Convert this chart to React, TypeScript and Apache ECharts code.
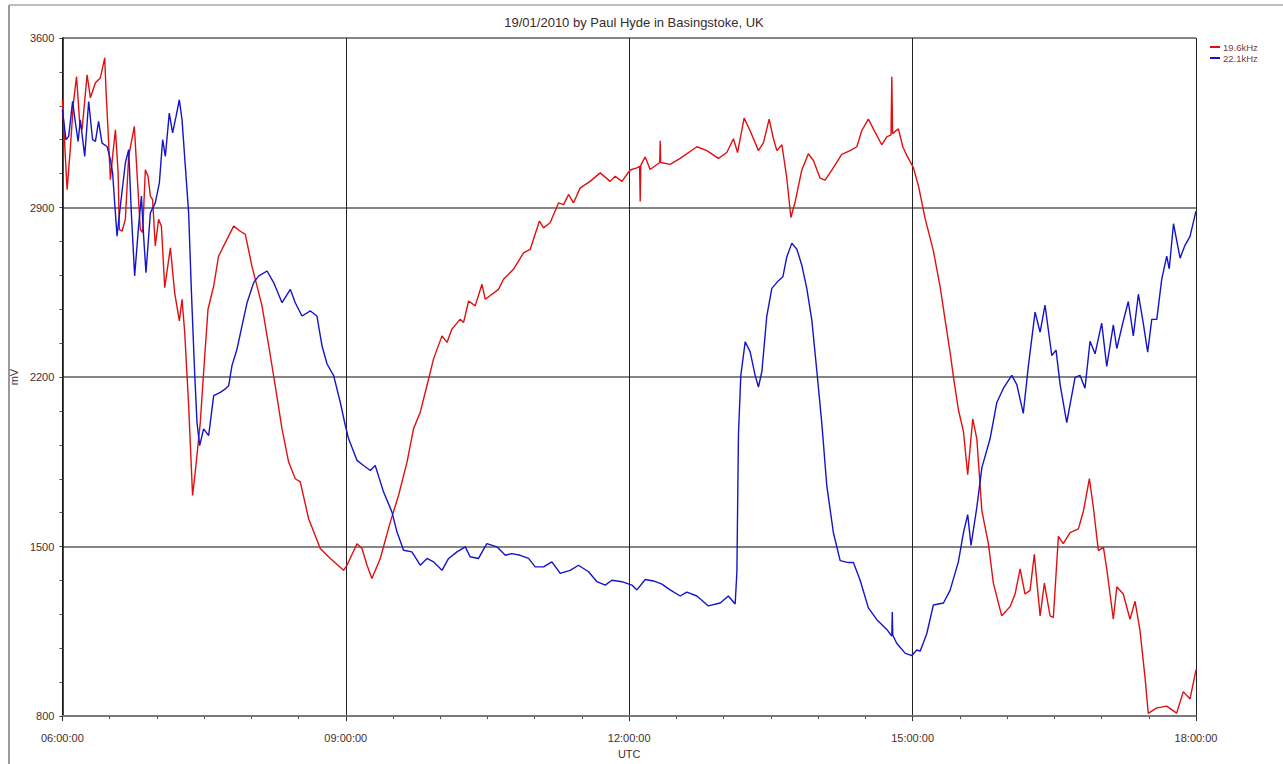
import React, { useEffect, useRef } from "react";
import * as echarts from "echarts";

// Time in minutes after 06:00 UTC, values in mV
const redMinutes = [
  0, 3, 5, 7, 9, 11, 12.5, 15.7, 17.8, 21,
  24.1, 26.9, 27.7, 29, 30.5, 31.9, 33.7, 35.4, 36.2, 37.9,
  40, 42.1, 45.7, 47.4, 49.5, 51, 52.7, 54.4, 55.9, 57.3,
  59, 61.1, 62.9, 65, 68.6, 71.3, 74.3, 76, 77.7, 80.2,
  82.7, 84.4, 87.6, 89.7, 92.5, 96.1, 99.2, 103.5, 108.8, 113,
  116.2, 120.4, 126.8, 132.1, 135.2, 139.5, 143.7, 147.9, 151.1, 156.4,
  163.8, 170.2, 178.6, 180.8, 187.1, 190.3, 193.5, 196.6, 201.9, 208.3,
  213.5, 218.9, 223, 227.3, 232.6, 235.7, 241.1, 244.3, 247.4, 252.7,
  254.8, 258, 262.2, 266.5, 268.6, 277, 280.2, 286.5, 292.9, 297.1,
  303, 305.6, 309.8, 315.1, 318.3, 321.5, 324.6, 328.9, 335.2, 341.6,
  347.9, 351.1, 355.4, 360.6, 364.9, 366.6, 367, 367.4, 370.2, 373.3,
  379.4, 379.7, 380, 386, 392.4, 403, 409.3, 416.7, 422, 426.2,
  428.8, 433, 436.8, 442.1, 445.3, 448.9, 451.6, 453.8, 457, 460.1,
  462.7, 465.4, 469.6, 473.8, 477, 481.3, 484.4, 488.7, 495, 500.3,
  504.6, 507.7, 511.9, 515.1, 520.4, 523.6, 526.3, 526.8, 527.3, 531,
  533.8, 536.3, 540.5, 543.7, 547.9, 553.2, 557.5, 560.6, 563.8, 566.3,
  569.1, 572.3, 575, 578.2, 580.8, 584, 588.1, 591.3, 596.6, 601.9,
  605.1, 608.3, 611.4, 614.6, 617.3, 621, 623.7, 627.3, 629.4, 632.6,
  635.7, 640, 645.3, 648.5, 652.3, 654.8, 658, 661.2, 663.3, 667.5,
  669.7, 673.8, 678.1, 681.3, 684.4, 687.6, 689.7, 695.1, 701.4, 707.7,
  711.9, 716.2, 720,
];
const redValues = [
  3345, 2974, 3139, 3332, 3441, 3250, 3221, 3448, 3353, 3415,
  3435, 3518, 3386, 3221, 3015, 3111, 3221, 3044, 2809, 2802,
  2851, 3111, 3235, 3044, 2809, 2797, 3056, 3029, 2947, 2933,
  2741, 2851, 2823, 2569, 2734, 2549, 2432, 2521, 2384, 2082,
  1711, 1808, 2013, 2219, 2480, 2576, 2699, 2755, 2823, 2802,
  2789, 2658, 2494, 2288, 2164, 1986, 1849, 1780, 1767, 1615,
  1492, 1451, 1402, 1423, 1512, 1492, 1423, 1368, 1451, 1602,
  1711, 1849, 1986, 2055, 2192, 2274, 2370, 2343, 2398, 2439,
  2425, 2514, 2494, 2583, 2521, 2562, 2604, 2645, 2713, 2727,
  2844, 2816, 2837, 2919, 2912, 2954, 2919, 2981, 3008, 3043,
  3008, 3029, 3008, 3055, 3064, 3070, 2925, 3075, 3109, 3057,
  3086, 3176, 3086, 3078, 3103, 3151, 3135, 3103, 3127, 3184,
  3127, 3269, 3217, 3135, 3168, 3265, 3184, 3135, 3159, 3021,
  2859, 2923, 3054, 3122, 3094, 3021, 3013, 3054, 3119, 3135,
  3151, 3217, 3265, 3225, 3159, 3192, 3200, 3440, 3205, 3225,
  3151, 3115, 3065, 2990, 2856, 2721, 2572, 2438, 2303, 2184,
  2065, 1975, 1797, 2027, 1945, 1647, 1513, 1349, 1214, 1252,
  1304, 1408, 1304, 1319, 1468, 1214, 1349, 1214, 1207, 1542,
  1512, 1558, 1573, 1647, 1781, 1662, 1483, 1497, 1408, 1200,
  1334, 1304, 1200, 1274, 1155, 961, 811, 834, 841, 812,
  901, 871, 991,
];

const blueMinutes = [
  0, 2.3, 4, 6.5, 8.3, 10, 11.4, 14.2, 16.7, 19.2,
  21, 23, 25.2, 28.4, 30.5, 31.9, 34.7, 36.8, 40, 42.1,
  43.8, 45.9, 48.4, 50.2, 51.6, 53.1, 55.9, 59, 61.6, 63.7,
  65.4, 67.9, 70, 72.2, 74.3, 76, 78.1, 80.2, 81.9, 84,
  85.5, 87.2, 89.7, 92.9, 96.1, 100.3, 103.5, 105.6, 107.7, 110.9,
  114.1, 117.3, 121.5, 124.6, 130, 134.2, 139.5, 144.8, 147.9, 152.2,
  157.5, 161.7, 164.9, 168.1, 172.3, 176.5, 179.7, 181.8, 187.1, 191.3,
  195.6, 198.7, 204, 209.3, 212.5, 216.7, 222, 227.3, 231.6, 235.7,
  241.1, 245.3, 250.6, 255.9, 259, 264.3, 269.6, 276, 281.3, 285.5,
  290.8, 296.1, 300.3, 305.6, 310.9, 316.2, 322.5, 327.8, 334.2, 339.5,
  344.8, 349, 355.4, 361.7, 364.9, 370.2, 375.4, 380.8, 386, 392.4,
  396.6, 403, 410.3, 417.8, 423, 427.3, 428.4, 429.4, 430.9, 433.7,
  436.8, 440, 442.1, 444.3, 447.4, 450.6, 454.8, 457.6, 460.1, 463.3,
  466.5, 469.6, 472.8, 476, 479.2, 482.3, 485.5, 489.7, 494, 499.2,
  502.4, 506.7, 511.9, 517.3, 523.6, 526.8, 527.1, 527.4, 529.9, 535.2,
  539.5, 542.7, 544.8, 549, 553.2, 559.6, 563.8, 569.1, 572.3, 575,
  577.1, 580.8, 584, 589.2, 593.5, 597.7, 603, 606.2, 610.3, 613.5,
  617.8, 621, 624.1, 628.4, 631.1, 633.7, 637.9, 643.2, 646.3, 649.5,
  652.7, 655.9, 660.1, 663.3, 667.5, 669.7, 673.5, 677, 680.2, 683.4,
  686.5, 689.3, 691.9, 695.1, 698.2, 701.4, 703, 705.7, 709.9, 713,
  716.2, 720,
];
const blueValues = [
  3304, 3180, 3194, 3338, 3249, 3173, 3262, 3111, 3338, 3180,
  3173, 3256, 3166, 3152, 3098, 3043, 2782, 2905, 3084, 3139,
  2878, 2617, 2823, 2947, 2782, 2631, 2878, 2919, 3002, 3180,
  3111, 3290, 3208, 3276, 3345, 3262, 3070, 2878, 2562, 2219,
  2013, 1917, 1986, 1958, 2123, 2137, 2151, 2164, 2247, 2315,
  2411, 2507, 2590, 2617, 2638, 2590, 2507, 2562, 2507, 2452,
  2473, 2452, 2329, 2254, 2206, 2096, 2000, 1945, 1856, 1835,
  1814, 1835, 1725, 1643, 1561, 1485, 1478, 1423, 1451, 1437,
  1402, 1451, 1478, 1499, 1458, 1451, 1512, 1499, 1464, 1471,
  1464, 1451, 1416, 1416, 1437, 1389, 1402, 1423, 1396, 1355,
  1341, 1361, 1355, 1341, 1321, 1364, 1358, 1345, 1321, 1296,
  1312, 1296, 1255, 1267, 1296, 1263, 1394, 1963, 2207, 2346,
  2305, 2207, 2159, 2224, 2452, 2566, 2598, 2614, 2696, 2753,
  2728, 2663, 2566, 2435, 2224, 2012, 1752, 1557, 1442, 1434,
  1434, 1361, 1247, 1198, 1158, 1130, 1230, 1135, 1101, 1060,
  1050, 1073, 1068, 1140, 1259, 1267, 1319, 1438, 1558, 1632,
  1505, 1662, 1826, 1945, 2095, 2154, 2207, 2169, 2050, 2244,
  2468, 2385, 2497, 2289, 2311, 2169, 2012, 2199, 2207, 2154,
  2348, 2296, 2423, 2244, 2415, 2318, 2423, 2512, 2370, 2542,
  2423, 2303, 2438, 2438, 2602, 2699, 2647, 2833, 2691, 2744,
  2781, 2885,
];

const seriesNames = ["19.6kHz", "22.1kHz"];
const titleText = "19/01/2010 by Paul Hyde in Basingstoke, UK";
const startHour = 6;

const toPairs = (mins: number[], vals: number[]) =>
  mins.map((m, i) => [startHour + m / 60, vals[i]]);

const FONT = "'Liberation Sans', Arial, sans-serif";
const TEXT = "#4a2c2c";

export default function App() {
  const ref = useRef<HTMLDivElement>(null);
  useEffect(() => {
    document.body.style.margin = "0";
    if (!ref.current) return;
    const chart = echarts.init(ref.current, undefined, { renderer: "svg" });
    chart.setOption({
      animation: false,
      backgroundColor: "#ffffff",
      textStyle: { fontFamily: FONT },
      title: {
        text: titleText,
        left: 629,
        textAlign: "center",
        top: 11,
        textStyle: { fontSize: 13, fontWeight: "normal", color: "#3a2a2a", fontFamily: FONT },
      },
      legend: {
        orient: "vertical",
        left: 1205,
        top: 37,
        itemWidth: 10,
        itemHeight: 2,
        itemGap: 1,
        icon: "rect",
        data: seriesNames,
        textStyle: { fontSize: 9.5, color: "#7a3a3a", fontFamily: FONT, padding: [0, 0, 0, -2] },
      },
      grid: { left: 62, right: 87, top: 38, bottom: 46, containLabel: false },
      xAxis: {
        type: "value",
        min: 6,
        max: 18,
        interval: 3,
        name: "UTC",
        nameLocation: "middle",
        nameGap: 30,
        nameTextStyle: { fontSize: 11, color: TEXT, fontFamily: FONT },
        axisLine: { show: true, lineStyle: { color: "#7a7a7a", width: 2 } },
        axisTick: { show: true, length: 5, lineStyle: { color: "#333" } },
        minorTick: { show: true, splitNumber: 6, length: 3, lineStyle: { color: "#555" } },
        axisLabel: {
          fontSize: 11,
          color: TEXT,
          margin: 16,
          fontFamily: FONT,
          formatter: (v: number) => String(v).padStart(2, "0") + ":00:00",
        },
        splitLine: { show: true, lineStyle: { color: "#222", width: 1 } },
      },
      yAxis: {
        type: "value",
        min: 800,
        max: 3600,
        interval: 700,
        name: "mV",
        nameLocation: "middle",
        nameGap: 33,
        nameTextStyle: { fontSize: 11, color: TEXT, fontFamily: FONT },
        axisLine: { show: true, lineStyle: { color: "#111", width: 1.5 } },
        axisTick: { show: true, length: 3, lineStyle: { color: "#444" } },
        minorTick: { show: true, splitNumber: 5, length: 3, lineStyle: { color: "#555" } },
        axisLabel: {
          fontSize: 11,
          color: TEXT,
          margin: 8,
          fontFamily: FONT,
          formatter: (v: number) => String(v),
        },
        splitLine: { show: true, lineStyle: { color: "#858585", width: 2 } },
      },
      graphic: [
        { type: "line", shape: { x1: 9, y1: 5, x2: 1283, y2: 5 }, style: { stroke: "#a9a99a", lineWidth: 1.5 } },
        { type: "line", shape: { x1: 9, y1: 5, x2: 9, y2: 764 }, style: { stroke: "#9a9a9a", lineWidth: 2 } },
      ],
      series: [
        {
          name: seriesNames[0],
          type: "line",
          showSymbol: false,
          symbol: "none",
          clip: true,
          color: "#e01010",
          lineStyle: { color: "#e01010", width: 1.4 },
          data: toPairs(redMinutes, redValues),
          z: 3,
        },
        {
          name: seriesNames[1],
          type: "line",
          showSymbol: false,
          symbol: "none",
          clip: true,
          color: "#1414c8",
          lineStyle: { color: "#1414c8", width: 1.4 },
          data: toPairs(blueMinutes, blueValues),
          z: 4,
        },
      ],
    });
    return () => chart.dispose();
  }, []);
  return <div ref={ref} style={{ width: 1283, height: 764 }} />;
}
